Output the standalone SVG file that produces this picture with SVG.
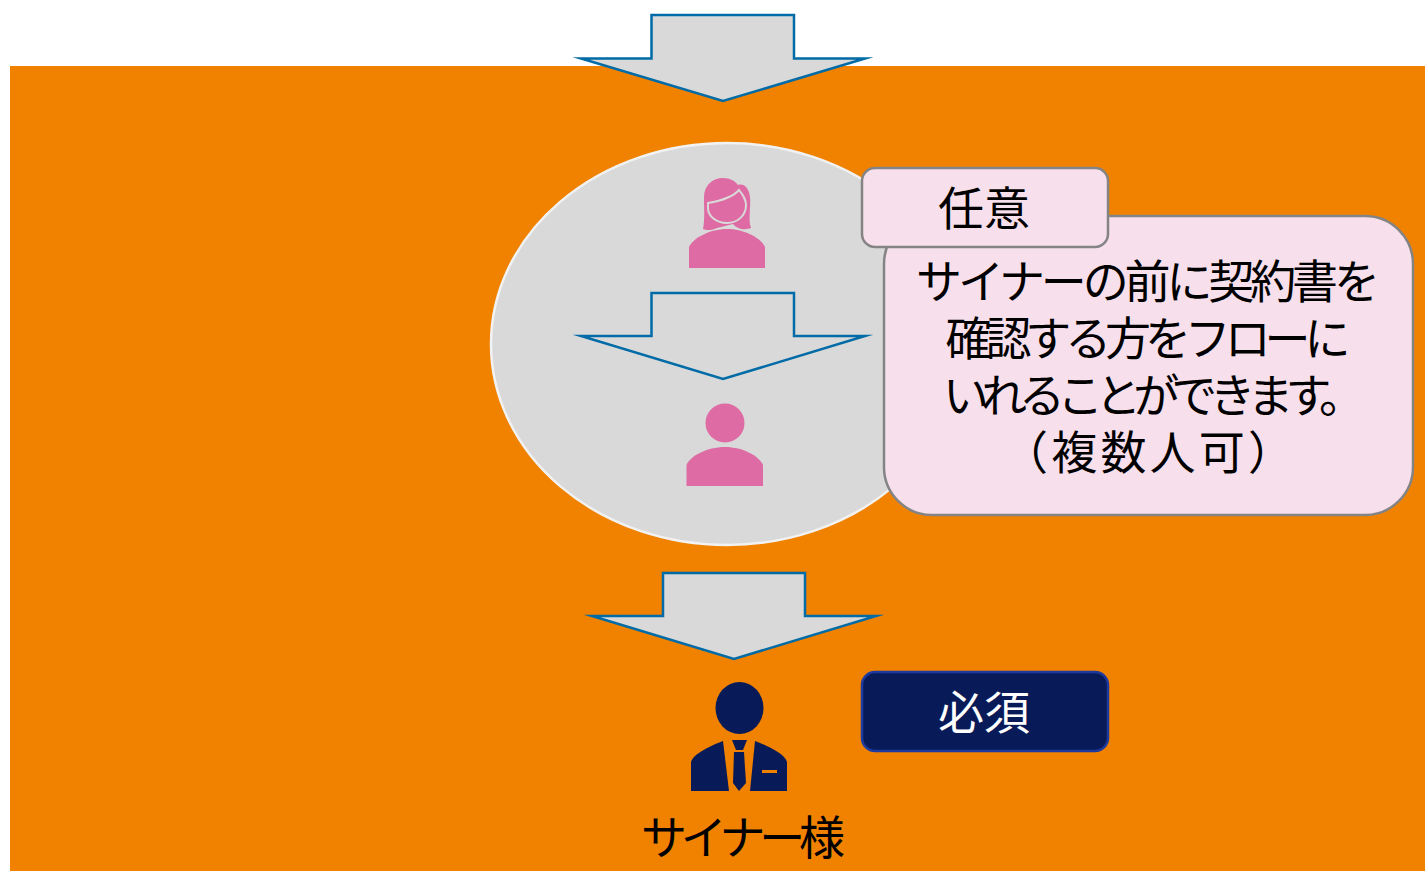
<svg xmlns="http://www.w3.org/2000/svg" width="1425" height="871" viewBox="0 0 1425 871">
<style>
.arrow{fill:#d9d9d9;stroke:#006ba6;stroke-width:2.500;stroke-miterlimit:20}
.pink{fill:#de6ba3}
.navy{fill:#081b58}
text{font-family:"Noto Sans CJK JP","Noto Sans CJK SC",sans-serif;text-anchor:middle;font-size:46px;fill:#000}
</style>
<rect id="background" x="10" y="66" width="1415" height="805" fill="#f08200"/>
<g id="connectors">
<path class="arrow" d="M651.500 15H794V58.500H865L723 101L581 58.500H651.500Z"/>
</g>
<g id="group-circle"><ellipse cx="727" cy="344" rx="236" ry="201" fill="#d9d9d9" stroke="#f2f2f2" stroke-width="2.500"/></g>
<g id="connectors2">
<path class="arrow" d="M651.500 293H794V336H865L723 379L581 336H651.500Z"/>
<path class="arrow" d="M663 573H805V616H876L734 659L592 616H663Z"/>
</g>
<g id="woman">
<path class="pink" d="M704 197C704 185 713 178 723 178C730 178 735 181 738 185C744 183 749 188 750 197C751 207 748 220 751 228C746 230 738 230 733 224L717 228C713 230 707 231 703 229C705 220 704 208 704 197Z"/>
<path class="pink" stroke="#d9d9d9" stroke-width="2" d="M708 203C720 201 732 198 739 190C743 195 746 199 746 205C746 216 737 223 727 223C716 223 708 216 708 208Z"/>
<path class="pink" d="M689 268V247C693 238 710 229 727 229C744 229 761 238 765 247V268Z"/>
</g>
<g id="person">
<circle class="pink" cx="725" cy="423" r="19.500"/>
<path class="pink" d="M686.500 486V465C690 456 707 447 725 447C743 447 759 456 763 465V486Z"/>
</g>
<g id="signer">
<ellipse class="navy" cx="739.500" cy="708" rx="24" ry="26"/>
<path class="navy" d="M691 791V762C693 754 710 746 723 741L729 791Z"/>
<path class="navy" d="M787 791V762C785 754 768 746 755 741L750 791Z"/>
<path class="navy" d="M732 740H747L743 750H736Z"/>
<path class="navy" d="M734 752H744L746 783L739 791L733 783Z"/>
<rect x="762" y="770" width="15" height="3" fill="#f08200"/>
<text x="743" y="854" textLength="204">サイナー様</text>
</g>
<g id="note">
<rect x="884" y="216" width="529" height="299" rx="48" fill="#f7dfec" stroke="#848484" stroke-width="2.500"/>
<text x="1148" y="298" textLength="464">サイナーの前に契約書を</text>
<text x="1148" y="355" textLength="405">確認する方をフローに</text>
<text x="1154" y="412" textLength="422">いれることができます。</text>
<text x="1148" y="469" textLength="292">（複数人可）</text>
</g>
<g id="optional">
<rect x="862" y="168" width="246" height="79" rx="13" fill="#f7dfec" stroke="#848484" stroke-width="2.500"/>
<text x="984" y="225">任意</text>
</g>
<g id="required">
<rect x="862" y="672" width="246" height="79" rx="13" fill="#081b58" stroke="#1f3a9e" stroke-width="2.500"/>
<text x="984" y="729" style="fill:#fff">必須</text>
</g>
</svg>
